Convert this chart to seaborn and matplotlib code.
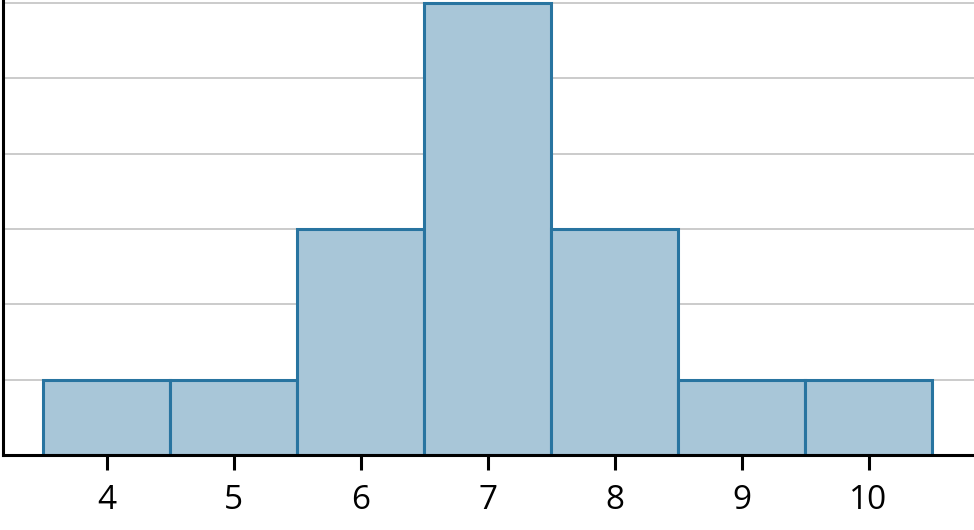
import matplotlib
matplotlib.use("Agg")
import matplotlib.pyplot as plt
import seaborn as sns

values = [4, 5, 6, 7, 8, 9, 10]
counts = [1, 1, 3, 6, 3, 1, 1]
ytick_vals = [1, 2, 3, 4, 5, 6]

sns.set_style("white")
plt.rcParams['font.family'] = ['Open Sans', 'DejaVu Sans']

fig = plt.figure(figsize=(9.74, 5.30), dpi=100)
ax = fig.add_axes([3/974, 75/530, 971/974, 455/530])

sns.histplot(x=values, weights=counts, discrete=True, ax=ax,
             color="#a8c6d8", alpha=1.0, edgecolor="#2874a0", linewidth=2.2)

ax.set_xlim(3.185, 10.83)
ax.set_ylim(0, 6.04)
ax.set_xticks(values)
ax.set_xticklabels([str(v) for v in values], fontsize=24)
ax.set_yticks(ytick_vals)
ax.set_yticklabels([])
ax.tick_params(axis='y', length=0, left=False)
ax.tick_params(axis='x', bottom=True, direction='out', length=11, width=2.2,
               color='black', labelcolor='black', pad=10)
ax.yaxis.grid(True, color="#bdbdbd", linewidth=1.1)
ax.xaxis.grid(False)
ax.set_axisbelow(True)
for s in ['top', 'right']:
    ax.spines[s].set_visible(False)
for s in ['left', 'bottom']:
    ax.spines[s].set_color('black')
    ax.spines[s].set_linewidth(2.2)
ax.set_xlabel('')
ax.set_ylabel('')

fig.savefig("out.png", dpi=100)
